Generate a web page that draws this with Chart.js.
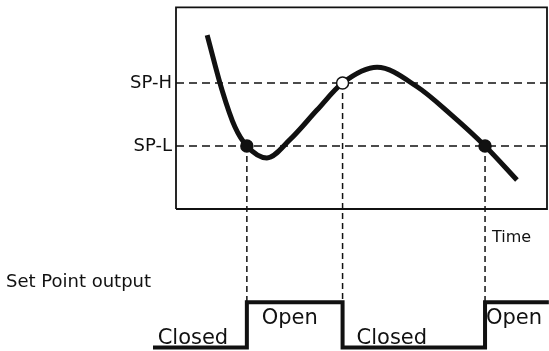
<!DOCTYPE html>
<html>
<head>
<meta charset="utf-8">
<script src="https://cdn.jsdelivr.net/npm/chart.js@4"></script>
<style>
  html, body { margin: 0; padding: 0; background: #fff; }
  #wrap { width: 549px; height: 351px; }
</style>
</head>
<body>
<div id="wrap"><canvas id="spChart"></canvas></div>
<script>
/* ===== DATA ===== */
// process value over time (time units, level units: SP-L = 1, SP-H = 2)
const curveTime  = [0.84, 1.24, 1.59, 1.91, 2.45, 3.07, 3.80, 4.49, 5.42, 6.50, 7.39, 8.33, 9.19];
const curveLevel = [2.76, 1.89, 1.30, 1.00, 0.81, 1.10, 1.57, 2.00, 2.25, 1.94, 1.51, 1.00, 0.46];

const spLow = 1;
const spHigh = 2;
const boxTime = [0, 10];
const boxLevel = [0, 3.2];

// moments where the value crosses a set point
const crossTime  = [1.91, 4.49, 8.33];
const crossLevel = [spLow, spHigh, spLow];

// set point output (switching times and states)
const outputTime  = [-0.62, 1.91, 4.49, 8.33, 10.05];
const outputState = ["Closed", "Open", "Closed", "Open"];
const stateLevel  = { Closed: -2.2, Open: -1.48 };

/* ===== BUILD DATASETS ===== */
const curve = curveTime.map((t, i) => ({ x: t, y: curveLevel[i] }));

const frame = [
  { x: boxTime[0], y: boxLevel[0] }, { x: boxTime[1], y: boxLevel[0] },
  { x: boxTime[1], y: boxLevel[1] }, { x: boxTime[0], y: boxLevel[1] },
  { x: boxTime[0], y: boxLevel[0] }
];

const output = [];
outputState.forEach((s, i) => output.push({ x: outputTime[i], y: stateLevel[s] }));
output.push({ x: outputTime[outputTime.length - 1], y: stateLevel[outputState[outputState.length - 1]] });

const dashLine = (pts, dash) => ({
  data: pts, borderColor: "#111", borderWidth: 1.5, borderDash: dash,
  pointRadius: 0, showLine: true, fill: false, clip: false, order: 4
});

const datasets = [
  {
    data: crossTime.map((t, i) => ({ x: t, y: crossLevel[i] })),
    showLine: false,
    pointRadius: 6,
    pointBorderWidth: 1.5,
    pointBorderColor: "#111",
    pointBackgroundColor: crossLevel.map(l => l === spHigh ? "#fff" : "#111"),
    clip: false, order: 0
  },
  {
    data: curve, showLine: true, borderColor: "#111", borderWidth: 5,
    cubicInterpolationMode: "monotone", pointRadius: 0, clip: false, order: 1
  },
  {
    data: output, showLine: true, stepped: true, borderColor: "#111",
    borderWidth: 4, pointRadius: 0, clip: false, order: 2
  },
  {
    data: frame, showLine: true, borderColor: "#111", borderWidth: 1.8,
    pointRadius: 0, clip: false, order: 3
  },
  dashLine([{ x: boxTime[0], y: spHigh }, { x: boxTime[1], y: spHigh }], [8, 5]),
  dashLine([{ x: boxTime[0], y: spLow }, { x: boxTime[1], y: spLow }], [8, 5])
];

crossTime.forEach((t, i) => {
  datasets.push(dashLine([{ x: t, y: crossLevel[i] }, { x: t, y: stateLevel.Open }], [6, 4]));
});

/* ===== TEXT LABELS ===== */
const FACE = "'DejaVu Sans', sans-serif";

const textPlugin = {
  id: "diagramText",
  afterDatasetsDraw(chart) {
    const { ctx, scales: { x, y } } = chart;
    ctx.save();
    ctx.fillStyle = "#111";

    // set point names beside the frame
    ctx.font = "18px " + FACE;
    ctx.textAlign = "right";
    ctx.textBaseline = "middle";
    ctx.fillText("SP-H", x.getPixelForValue(boxTime[0]) - 4, y.getPixelForValue(spHigh));
    ctx.fillText("SP-L", x.getPixelForValue(boxTime[0]) - 4, y.getPixelForValue(spLow));

    ctx.font = "16px " + FACE;
    ctx.textAlign = "left";
    ctx.fillText("Time", x.getPixelForValue(crossTime[2]) + 7, y.getPixelForValue(-0.46));
    ctx.font = "18px " + FACE;
    ctx.fillText("Set Point output", 6, y.getPixelForValue(-1.16));

    // state names along the output line
    ctx.font = "21px " + FACE;
    const offsets = [-7, -5, -22, -3];
    outputState.forEach((s, i) => {
      const mid = (x.getPixelForValue(outputTime[i]) + x.getPixelForValue(outputTime[i + 1])) / 2 + offsets[i];
      ctx.textAlign = "center";
      if (s === "Open") {
        ctx.textBaseline = "top";
        ctx.fillText(s, mid, y.getPixelForValue(stateLevel.Open) + 6);
      } else {
        ctx.textBaseline = "alphabetic";
        ctx.fillText(s, mid, y.getPixelForValue(stateLevel.Closed) - 4);
      }
    });
    ctx.restore();
  }
};

/* ===== CHART ===== */
new Chart(document.getElementById("spChart"), {
  type: "scatter",
  data: { datasets },
  options: {
    responsive: true,
    maintainAspectRatio: false,
    animation: false,
    layout: { padding: 0, autoPadding: false },
    plugins: { legend: { display: false }, tooltip: { enabled: false } },
    scales: {
      x: { type: "linear", display: false, min: -4.744, max: 10.054 },
      y: { type: "linear", display: false, min: -2.254, max: 3.317 }
    }
  },
  plugins: [textPlugin]
});
</script>
</body>
</html>
